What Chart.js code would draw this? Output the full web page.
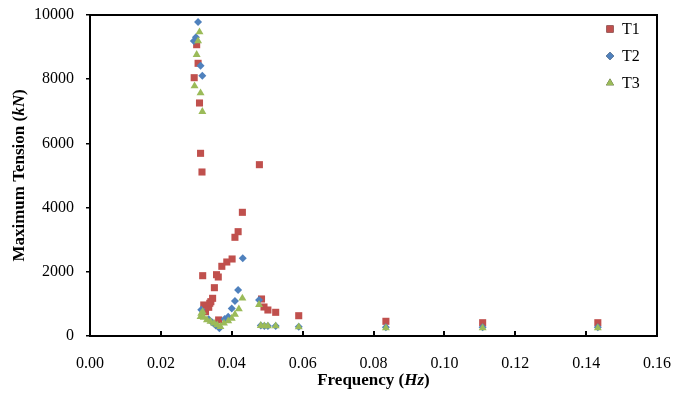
<!DOCTYPE html>
<html>
<head>
<meta charset="utf-8">
<script src="https://cdn.jsdelivr.net/npm/chart.js@4.4.0/dist/chart.umd.min.js"></script>
<style>
  html, body { margin: 0; padding: 0; background: #fff; }
  #wrap { width: 675px; height: 398px; }
</style>
</head>
<body>
<div id="wrap"><canvas id="myChart" width="675" height="398"></canvas></div>
<script>
// values
const seriesNames = ['T1', 'T2', 'T3'];
const seriesColors = ['#C0504D', '#4F81BD', '#9BBB59'];

const t1Freq = [0.0294, 0.0301, 0.0305, 0.0309, 0.0312, 0.0316, 0.0318, 0.0321, 0.0326, 0.0335, 0.0338, 0.0341, 0.0346, 0.0351, 0.0357, 0.0362, 0.0363, 0.0372, 0.0386, 0.0401, 0.0409, 0.0418, 0.0430, 0.0478, 0.0484, 0.0491, 0.0502, 0.0524, 0.0589, 0.0835, 0.1108, 0.1433];
const t1Tension = [8047, 9075, 8495, 7259, 5691, 5109, 1879, 966, 757, 894, 1019, 1069, 1174, 1505, 1910, 1838, 500, 2171, 2305, 2399, 3075, 3250, 3853, 5337, 1153, 903, 810, 738, 632, 458, 414, 414];

const t2Freq = [0.0293, 0.0299, 0.0305, 0.0312, 0.0317, 0.0314, 0.0335, 0.0345, 0.0355, 0.0365, 0.0380, 0.0390, 0.0400, 0.0409, 0.0418, 0.0431, 0.0477, 0.0482, 0.0492, 0.0502, 0.0524, 0.0589, 0.0835, 0.1108, 0.1433];
const t2Tension = [9190, 9305, 9782, 8421, 8109, 815, 520, 420, 330, 240, 530, 600, 860, 1090, 1433, 2419, 1121, 330, 310, 310, 310, 290, 270, 270, 270];

const t3Freq = [0.0295, 0.0301, 0.0305, 0.0309, 0.0312, 0.0317, 0.0312, 0.0314, 0.0318, 0.0321, 0.0330, 0.0340, 0.0350, 0.0359, 0.0368, 0.0378, 0.0390, 0.0400, 0.0409, 0.0420, 0.0430, 0.0477, 0.0482, 0.0492, 0.0502, 0.0524, 0.0589, 0.0835, 0.1108, 0.1433];
const t3Tension = [7788, 8763, 9190, 9470, 7570, 6988, 600, 700, 751, 580, 500, 450, 395, 343, 290, 395, 467, 550, 675, 840, 1174, 975, 321, 310, 310, 310, 280, 249, 249, 249];

const xTicks = [0, 0.02, 0.04, 0.06, 0.08, 0.10, 0.12, 0.14, 0.16];
const yTicks = [0, 2000, 4000, 6000, 8000, 10000];

function toPoints(xs, ys) {
    let pts = [];
    for (let i = 0; i < xs.length; i++) {
        pts.push({ x: xs[i], y: ys[i] });
    }
    return pts;
}

const serif = "'Liberation Serif', 'Times New Roman', serif";

// top/right frame, inward x ticks, axis titles (italic units), legend in the box
const textPlugin = {
    id: 'texts',
    afterDraw(chart) {
        const ctx = chart.ctx;
        const a = chart.chartArea;
        ctx.save();
        ctx.fillStyle = '#000';
        ctx.fillRect(a.left - 1, a.top - 1, a.right - a.left + 2, 2);
        ctx.fillRect(a.right - 1, a.top - 1, 2, a.bottom - a.top + 2);
        const xs = chart.scales.x;
        xTicks.forEach(v => {
            const px = Math.round(xs.getPixelForValue(v));
            ctx.fillRect(px - 1, a.bottom - 5, 2, 5);
        });

        ctx.textBaseline = 'middle';
        ctx.textAlign = 'left';

        const parts = [['Frequency (', 'bold 17px '], ['Hz', 'italic bold 17px '], [')', 'bold 17px ']];
        let total = 0;
        parts.forEach(p => { ctx.font = p[1] + serif; total += ctx.measureText(p[0]).width; });
        let x = (a.left + a.right) / 2 - total / 2;
        parts.forEach(p => {
            ctx.font = p[1] + serif;
            ctx.fillText(p[0], x, 381);
            x += ctx.measureText(p[0]).width;
        });

        const yparts = [['Maximum Tension (', 'bold 17px '], ['kN', 'italic bold 17px '], [')', 'bold 17px ']];
        total = 0;
        yparts.forEach(p => { ctx.font = p[1] + serif; total += ctx.measureText(p[0]).width; });
        ctx.translate(20, (a.top + a.bottom) / 2);
        ctx.rotate(-Math.PI / 2);
        x = -total / 2;
        yparts.forEach(p => {
            ctx.font = p[1] + serif;
            ctx.fillText(p[0], x, 0);
            x += ctx.measureText(p[0]).width;
        });
        ctx.restore();

        ctx.save();
        ctx.font = '16px ' + serif;
        ctx.textBaseline = 'middle';
        ctx.textAlign = 'left';
        chart.data.datasets.forEach((ds, i) => {
            const cy = 29 + i * 27;
            Chart.helpers.drawPoint(ctx, {
                pointStyle: ds.pointStyle,
                radius: ds.pointRadius,
                borderWidth: 0
            }, 610, cy);
            ctx.fillStyle = ds.backgroundColor;
            ctx.fill();
            ctx.fillStyle = '#000';
            ctx.fillText(ds.label, 622, cy + 1);
        });
        ctx.restore();
    }
};

const styles = ['rect', 'rectRot', 'triangle'];
const radii = [5, 4, 4.6];
const allData = [toPoints(t1Freq, t1Tension), toPoints(t2Freq, t2Tension), toPoints(t3Freq, t3Tension)];

let ctx = document.getElementById('myChart').getContext('2d');

let myChart = new Chart(ctx, {
    type: 'scatter',
    data: {
        datasets: seriesNames.map((name, i) => ({
            label: name,
            data: allData[i],
            backgroundColor: seriesColors[i],
            borderColor: seriesColors[i],
            pointStyle: styles[i],
            pointRadius: radii[i],
            pointBorderWidth: 0,
            order: 3 - i
        }))
    },
    options: {
        responsive: false,
        animation: false,
        layout: {
            padding: { left: 0, right: 18, top: 15, bottom: 0 }
        },
        plugins: {
            legend: { display: false },
            tooltip: { enabled: false }
        },
        scales: {
            x: {
                type: 'linear',
                position: 'bottom',
                min: 0,
                max: 0.16,
                afterBuildTicks: scale => { scale.ticks = xTicks.map(v => ({ value: v })); },
                afterFit: scale => { scale.height = 62; scale.paddingLeft = 0; scale.paddingRight = 0; },
                grid: { display: false },
                border: { display: true, color: '#000', width: 2 },
                ticks: {
                    padding: 10,
                    color: '#000',
                    font: { family: serif, size: 16 },
                    callback: v => v.toFixed(2)
                }
            },
            y: {
                type: 'linear',
                position: 'left',
                min: 0,
                max: 10000,
                afterBuildTicks: scale => { scale.ticks = yTicks.map(v => ({ value: v })); },
                afterFit: scale => { scale.width = 90; scale.paddingTop = 0; scale.paddingBottom = 0; },
                grid: { drawOnChartArea: false, drawTicks: true, tickLength: 4, color: '#000', lineWidth: 1.5 },
                border: { display: true, color: '#000', width: 2 },
                ticks: {
                    padding: 12,
                    color: '#000',
                    font: { family: serif, size: 16 },
                    callback: v => String(v)
                }
            }
        }
    },
    plugins: [textPlugin]
});
</script>
</body>
</html>
